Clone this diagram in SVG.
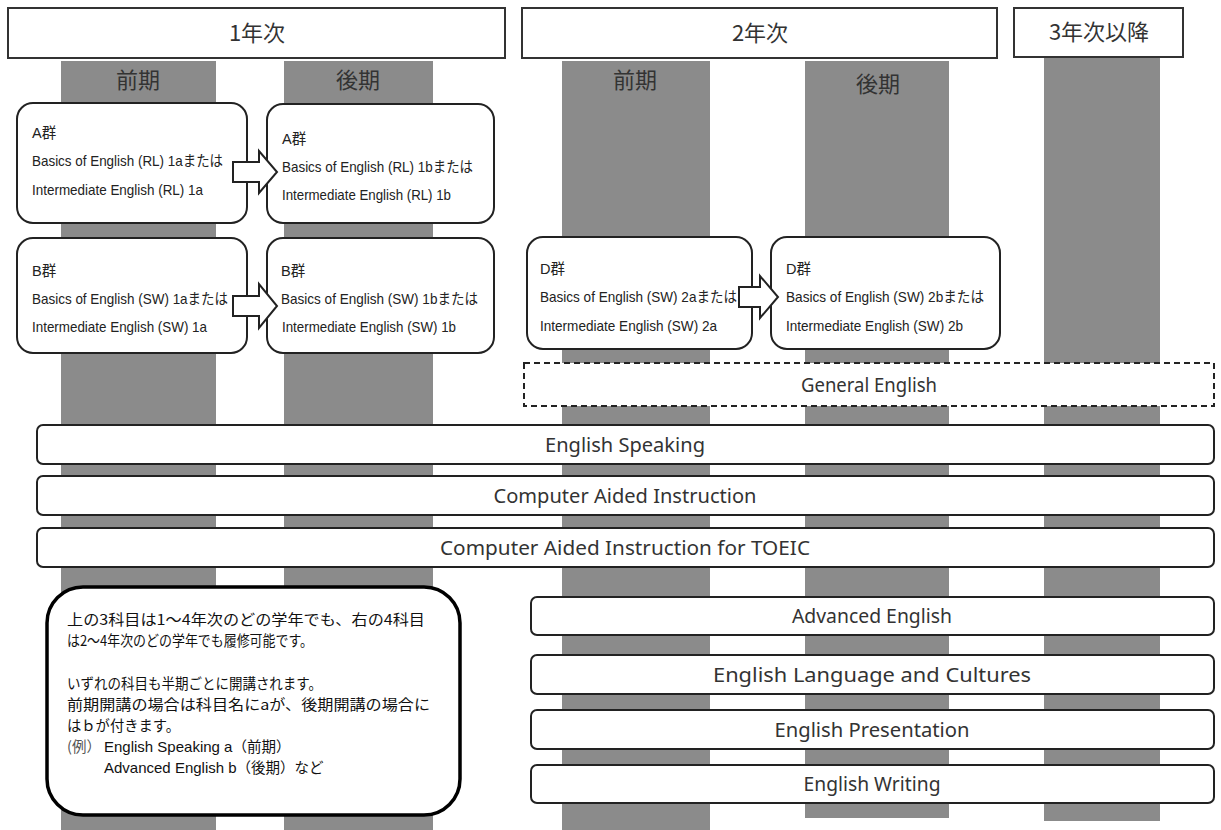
<svg xmlns="http://www.w3.org/2000/svg" width="1221" height="830" viewBox="0 0 1221 830">
<style>
.bar{fill:#8b8b8b}
.hdr{fill:#fff;stroke:#333;stroke-width:2}
.hdrt{font-family:"Noto Sans CJK JP","Liberation Sans",sans-serif;font-size:22px;fill:#333;text-anchor:middle}
.term{font-family:"Noto Sans CJK JP","Liberation Sans",sans-serif;font-size:22px;fill:#333;text-anchor:middle}
.node{fill:#fff;stroke:#222;stroke-width:2}
.nt{font-family:"Liberation Sans","Noto Sans CJK JP",sans-serif;font-size:14.5px;fill:#222}
.band{fill:#fff;stroke:#222;stroke-width:2}
.dash{fill:#fff;stroke:#222;stroke-width:2;stroke-dasharray:6 4}
.bt{font-family:"Noto Sans","Liberation Sans",sans-serif;font-size:20px;fill:#333;text-anchor:middle}
.arrow{fill:#fff;stroke:#222;stroke-width:2;stroke-linejoin:miter}
.note{fill:#fff;stroke:#000;stroke-width:3.5}
.ntx{font-family:"Noto Sans CJK JP","Liberation Sans",sans-serif;font-size:14.5px;fill:#111}
.ntxe{font-family:"Liberation Sans","Noto Sans CJK JP",sans-serif;font-size:15px;fill:#111}
</style>

<g id="bars">
<rect class="bar" x="61" y="61" width="155" height="769"/>
<rect class="bar" x="284" y="61" width="149" height="769"/>
<rect class="bar" x="562" y="61" width="148" height="769"/>
<rect class="bar" x="805" y="61" width="144" height="757"/>
<rect class="bar" x="1044" y="57" width="116" height="764"/>
</g>

<g id="header-y1"><rect class="hdr" x="8" y="8" width="497" height="50"/><text class="hdrt" x="257" y="41">1年次</text></g>
<g id="header-y2"><rect class="hdr" x="522" y="8" width="475" height="50"/><text class="hdrt" x="760" y="41">2年次</text></g>
<g id="header-y3"><rect class="hdr" x="1014" y="8" width="169" height="49"/><text class="hdrt" x="1099" y="40">3年次以降</text></g>

<g id="term-labels">
<text class="term" x="138" y="88">前期</text>
<text class="term" x="358" y="88">後期</text>
<text class="term" x="635" y="88">前期</text>
<text class="term" x="878" y="92">後期</text>
</g>

<g id="node-a1"><rect class="node" x="17" y="103" width="230" height="120" rx="16"/>
<text class="nt" x="32" y="138">A群</text>
<text class="nt" x="32" y="166" textLength="191" lengthAdjust="spacingAndGlyphs">Basics of English (RL) 1aまたは</text>
<text class="nt" x="32" y="195" textLength="171" lengthAdjust="spacingAndGlyphs">Intermediate English (RL) 1a</text></g>

<g id="node-a2"><rect class="node" x="267" y="104" width="227" height="119" rx="16"/>
<text class="nt" x="282" y="144">A群</text>
<text class="nt" x="282" y="172" textLength="191" lengthAdjust="spacingAndGlyphs">Basics of English (RL) 1bまたは</text>
<text class="nt" x="282" y="200" textLength="169" lengthAdjust="spacingAndGlyphs">Intermediate English (RL) 1b</text></g>

<g id="node-b1"><rect class="node" x="17" y="238" width="230" height="115" rx="16"/>
<text class="nt" x="32" y="276">B群</text>
<text class="nt" x="32" y="304" textLength="196" lengthAdjust="spacingAndGlyphs">Basics of English (SW) 1aまたは</text>
<text class="nt" x="32" y="332" textLength="175" lengthAdjust="spacingAndGlyphs">Intermediate English (SW) 1a</text></g>

<g id="node-b2"><rect class="node" x="267" y="238" width="227" height="115" rx="16"/>
<text class="nt" x="281" y="276">B群</text>
<text class="nt" x="281" y="304" textLength="197" lengthAdjust="spacingAndGlyphs">Basics of English (SW) 1bまたは</text>
<text class="nt" x="282" y="332" textLength="174" lengthAdjust="spacingAndGlyphs">Intermediate English (SW) 1b</text></g>

<g id="node-d1"><rect class="node" x="527" y="237" width="225" height="112" rx="16"/>
<text class="nt" x="540" y="274">D群</text>
<text class="nt" x="540" y="302" textLength="197" lengthAdjust="spacingAndGlyphs">Basics of English (SW) 2aまたは</text>
<text class="nt" x="540" y="331" textLength="177" lengthAdjust="spacingAndGlyphs">Intermediate English (SW) 2a</text></g>

<g id="node-d2"><rect class="node" x="771" y="237" width="229" height="112" rx="16"/>
<text class="nt" x="786" y="274">D群</text>
<text class="nt" x="786" y="302" textLength="198" lengthAdjust="spacingAndGlyphs">Basics of English (SW) 2bまたは</text>
<text class="nt" x="786" y="331" textLength="177" lengthAdjust="spacingAndGlyphs">Intermediate English (SW) 2b</text></g>

<g id="connectors">
<path class="arrow" d="M233,162 H259 V151 L277,172 L259,193 V182 H233 Z"/>
<path class="arrow" d="M233,296 H259 V284 L277,306 L259,328 V316 H233 Z"/>
<path class="arrow" d="M739,287 H760 V276 L778,297 L760,318 V307 H739 Z"/>
</g>

<g id="general-english"><rect class="dash" x="524" y="363" width="690" height="43"/><text class="bt" x="869" y="392" textLength="136" lengthAdjust="spacingAndGlyphs">General English</text></g>

<g id="english-speaking"><rect class="band" x="37" y="425" width="1177" height="39" rx="6"/><text class="bt" x="625" y="452" textLength="160" lengthAdjust="spacingAndGlyphs">English Speaking</text></g>
<g id="cai"><rect class="band" x="37" y="476" width="1177" height="39" rx="6"/><text class="bt" x="625" y="503" textLength="263" lengthAdjust="spacingAndGlyphs">Computer Aided Instruction</text></g>
<g id="cai-toeic"><rect class="band" x="37" y="528" width="1177" height="39" rx="6"/><text class="bt" x="625" y="555" textLength="370" lengthAdjust="spacingAndGlyphs">Computer Aided Instruction for TOEIC</text></g>

<g id="advanced-english"><rect class="band" x="531" y="597" width="683" height="38" rx="6"/><text class="bt" x="872" y="623" textLength="160" lengthAdjust="spacingAndGlyphs">Advanced English</text></g>
<g id="elc"><rect class="band" x="531" y="655" width="683" height="39" rx="6"/><text class="bt" x="872" y="682" textLength="318" lengthAdjust="spacingAndGlyphs">English Language and Cultures</text></g>
<g id="presentation"><rect class="band" x="531" y="710" width="683" height="39" rx="6"/><text class="bt" x="872" y="737" textLength="195" lengthAdjust="spacingAndGlyphs">English Presentation</text></g>
<g id="writing"><rect class="band" x="531" y="765" width="683" height="38" rx="6"/><text class="bt" x="872" y="791" textLength="137" lengthAdjust="spacingAndGlyphs">English Writing</text></g>

<g id="note"><rect class="note" x="47" y="587" width="413" height="228" rx="36"/>
<text class="ntx" x="67" y="625" textLength="358" lengthAdjust="spacingAndGlyphs">上の3科目は1～4年次のどの学年でも、右の4科目</text>
<text class="ntx" x="67" y="646" textLength="246" lengthAdjust="spacingAndGlyphs">は2～4年次のどの学年でも履修可能です。</text>
<text class="ntx" x="67" y="689" textLength="255" lengthAdjust="spacingAndGlyphs">いずれの科目も半期ごとに開講されます。</text>
<text class="ntx" x="67" y="710" textLength="363" lengthAdjust="spacingAndGlyphs">前期開講の場合は科目名にaが、後期開講の場合に</text>
<text class="ntx" x="67" y="731" textLength="113" lengthAdjust="spacingAndGlyphs">はｂが付きます。</text>
<text class="ntx" x="67" y="752"><tspan fill="#555">(例）</tspan><tspan class="ntxe" x="104">English Speaking a</tspan><tspan>（前期）</tspan></text>
<text class="ntx" x="104" y="773"><tspan class="ntxe">Advanced English b</tspan><tspan>（後期）など</tspan></text>
</g>
</svg>
